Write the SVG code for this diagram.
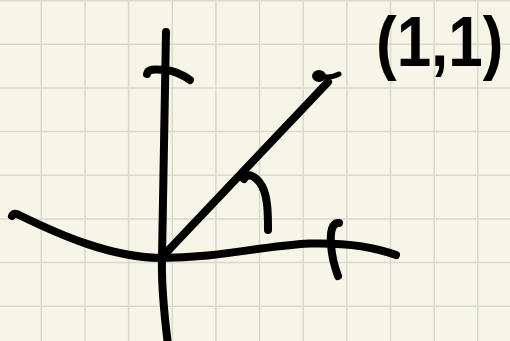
<svg xmlns="http://www.w3.org/2000/svg" width="510" height="341" viewBox="0 0 510 341">
  <defs>
    <style>
      .grid line { stroke: #d9d9cc; stroke-width: 1.5; }
      .ink { fill: none; stroke: #000; stroke-width: 8; stroke-linecap: round; stroke-linejoin: round; }
      .label { font-family: "Liberation Sans", Arial, sans-serif; font-weight: bold; font-size: 62px; fill: #000; }
    </style>
  </defs>
  <rect width="510" height="341" fill="#f7f5e8"/>
  <g class="grid" id="grid">
    <line x1="41.3" y1="0" x2="41.3" y2="341"/>
    <line x1="85" y1="0" x2="85" y2="341"/>
    <line x1="128.6" y1="0" x2="128.6" y2="341"/>
    <line x1="172.3" y1="0" x2="172.3" y2="341"/>
    <line x1="215.9" y1="0" x2="215.9" y2="341"/>
    <line x1="259.6" y1="0" x2="259.6" y2="341"/>
    <line x1="303.2" y1="0" x2="303.2" y2="341"/>
    <line x1="346.9" y1="0" x2="346.9" y2="341"/>
    <line x1="390.5" y1="0" x2="390.5" y2="341"/>
    <line x1="434.2" y1="0" x2="434.2" y2="341"/>
    <line x1="477.8" y1="0" x2="477.8" y2="341"/>
    <line x1="0" y1="0.8" x2="510" y2="0.8"/>
    <line x1="0" y1="44.3" x2="510" y2="44.3"/>
    <line x1="0" y1="88" x2="510" y2="88"/>
    <line x1="0" y1="131.6" x2="510" y2="131.6"/>
    <line x1="0" y1="175.2" x2="510" y2="175.2"/>
    <line x1="0" y1="218.9" x2="510" y2="218.9"/>
    <line x1="0" y1="262.6" x2="510" y2="262.6"/>
    <line x1="0" y1="306.2" x2="510" y2="306.2"/>
  </g>
  <g id="axes">
    <path class="ink" d="M166,32 C165,120 163,200 162,257 C161,290 165,320 168,345"/>
    <path class="ink" d="M12,216 Q14,212 19,215 C60,235 110,257 160,258 C220,258 260,246 310,243.5 C350,242.5 375,247 396,255"/>
  </g>
  <g id="ticks">
    <path class="ink" d="M147,74 C148,69 153,69 166,70 C175,71 183,75 190,80"/>
    <path class="ink" d="M339,223 C332,222 330,232 331,245 C332,258 335,268 338,276"/>
  </g>
  <g id="ray">
    <path class="ink" d="M163,256 L328,82"/>
    <ellipse cx="319" cy="76" rx="7" ry="6" fill="#000"/>
    <path d="M319,76 Q330,79 339,74" fill="none" stroke="#000" stroke-width="5" stroke-linecap="round"/>
  </g>
  <g id="angle">
    <path class="ink" d="M244,179 C248,172 256,176 262,186 C268,197 268,215 268,230"/>
  </g>
  <g id="point-label">
    <text class="label" transform="translate(376,66) scale(1,1.15)">(1,1)</text>
  </g>
</svg>
